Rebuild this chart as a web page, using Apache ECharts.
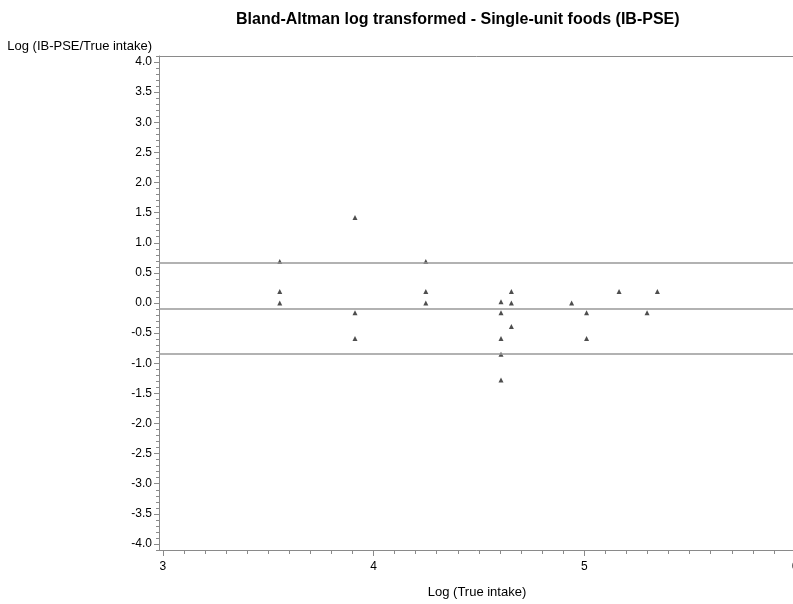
<!DOCTYPE html>
<html>
<head>
<meta charset="utf-8">
<script src="https://cdn.jsdelivr.net/npm/echarts@6/dist/echarts.min.js"></script>
<style>html,body{margin:0;padding:0;background:#fff}#chart{width:793px;height:604px}</style>
</head>
<body>
<div id="chart"></div>
<script>
// Data
var trueIntakeLog = [3.555, 3.555, 3.555, 3.912, 3.912, 3.912, 4.248, 4.248, 4.248,
  4.605, 4.605, 4.605, 4.605, 4.605, 4.654, 4.654, 4.654,
  4.94, 5.011, 5.011, 5.165, 5.298, 5.347];
var logRatio = [0.69, 0.19, 0.0, 1.42, -0.16, -0.59, 0.69, 0.19, 0.0,
  0.02, -0.16, -0.59, -0.85, -1.28, 0.19, 0.0, -0.39,
  0.0, -0.16, -0.59, 0.19, -0.16, 0.19];
var limits = [0.656, -0.088, -0.848];   // upper LoA, mean, lower LoA
var yMajorTicks = [-4.0, -3.5, -3.0, -2.5, -2.0, -1.5, -1.0, -0.5, 0.0, 0.5, 1.0, 1.5, 2.0, 2.5, 3.0, 3.5, 4.0];
var xMajorTicks = [3, 4, 5, 6];
var xMinorTicks = [3.0,3.1,3.2,3.3,3.4,3.5,3.6,3.7,3.8,3.9,4.0,4.1,4.2,4.3,4.4,4.5,4.6,4.7,4.8,4.9,5.0,5.1,5.2,5.3,5.4,5.5,5.6,5.7,5.8,5.9,6.0];
var titleText = 'Bland-Altman log transformed - Single-unit foods (IB-PSE)';
var yName = 'Log (IB-PSE/True intake)';
var xName = 'Log (True intake)';

var pts = trueIntakeLog.map(function (x, i) { return [x, logRatio[i]]; });
var axisGray = '#8a8a8a';
var font = 'Arial, "Liberation Sans", sans-serif';

var chart = echarts.init(document.getElementById('chart'));
chart.setOption({
  animation: false,
  backgroundColor: '#fff',
  title: {
    text: titleText, left: 231, top: 7,
    textStyle: { fontFamily: font, fontSize: 16, fontWeight: 'bold', color: '#000' }
  },
  grid: { left: 159, top: 56, right: -2, bottom: 54, containLabel: false, outerBoundsMode: 'none' },
  xAxis: [
    {
      type: 'value', min: 2.982, max: 6.0, position: 'bottom', offset: 0,
      axisLine: { show: true, onZero: false, lineStyle: { color: axisGray, width: 1 } },
      axisTick: { show: true, length: 4, customValues: xMinorTicks, lineStyle: { color: axisGray } },
      axisLabel: { show: false },
      splitLine: { show: false }
    },
    {
      type: 'value', min: 2.982, max: 6.0, position: 'bottom', offset: 0,
      name: xName, nameLocation: 'middle', nameGap: 36,
      nameTextStyle: { fontFamily: font, fontSize: 13, color: '#000' },
      axisLine: { show: false, onZero: false },
      axisTick: { show: true, length: 6, customValues: xMajorTicks, lineStyle: { color: axisGray } },
      axisLabel: { show: true, customValues: xMajorTicks, margin: 11, fontFamily: font, fontSize: 12, color: '#000',
        formatter: function (v) { return String(Math.round(v)); } },
      splitLine: { show: false }
    },
    {
      type: 'value', min: 2.982, max: 6.0, position: 'top', offset: 0,
      axisLine: { show: true, onZero: false, lineStyle: { color: axisGray, width: 1 } },
      axisTick: { show: false }, axisLabel: { show: false }, splitLine: { show: false }
    }
  ],
  yAxis: [
    {
      type: 'value', min: -4.1, max: 4.1, interval: 0.1, position: 'left', offset: 0,
      axisLine: { show: true, onZero: false, lineStyle: { color: axisGray, width: 1 } },
      axisTick: { show: true, length: 3, lineStyle: { color: axisGray } },
      axisLabel: { show: false },
      splitLine: { show: false }
    },
    {
      type: 'value', min: -4.1, max: 4.1, position: 'left', offset: 0,
      name: yName, nameLocation: 'end', nameGap: 3,
      nameTextStyle: { fontFamily: font, fontSize: 13, color: '#000', align: 'right', verticalAlign: 'bottom', padding: [0, 7, 0, 0] },
      axisLine: { show: false, onZero: false },
      axisTick: { show: true, length: 5, customValues: yMajorTicks, lineStyle: { color: axisGray } },
      axisLabel: { show: true, customValues: yMajorTicks, margin: 7, fontFamily: font, fontSize: 12, color: '#000',
        formatter: function (v) { return v.toFixed(1); } },
      splitLine: { show: false }
    }
  ],
  series: [{
    type: 'scatter',
    xAxisIndex: 0, yAxisIndex: 0,
    data: pts,
    symbol: 'triangle', symbolSize: 5,
    itemStyle: { color: '#222' },
    markLine: {
      silent: true, symbol: 'none',
      label: { show: false },
      lineStyle: { color: '#999', width: 1.5, type: 'solid' },
      data: limits.map(function (v) { return { yAxis: v }; })
    }
  }]
});
</script>
</body>
</html>
